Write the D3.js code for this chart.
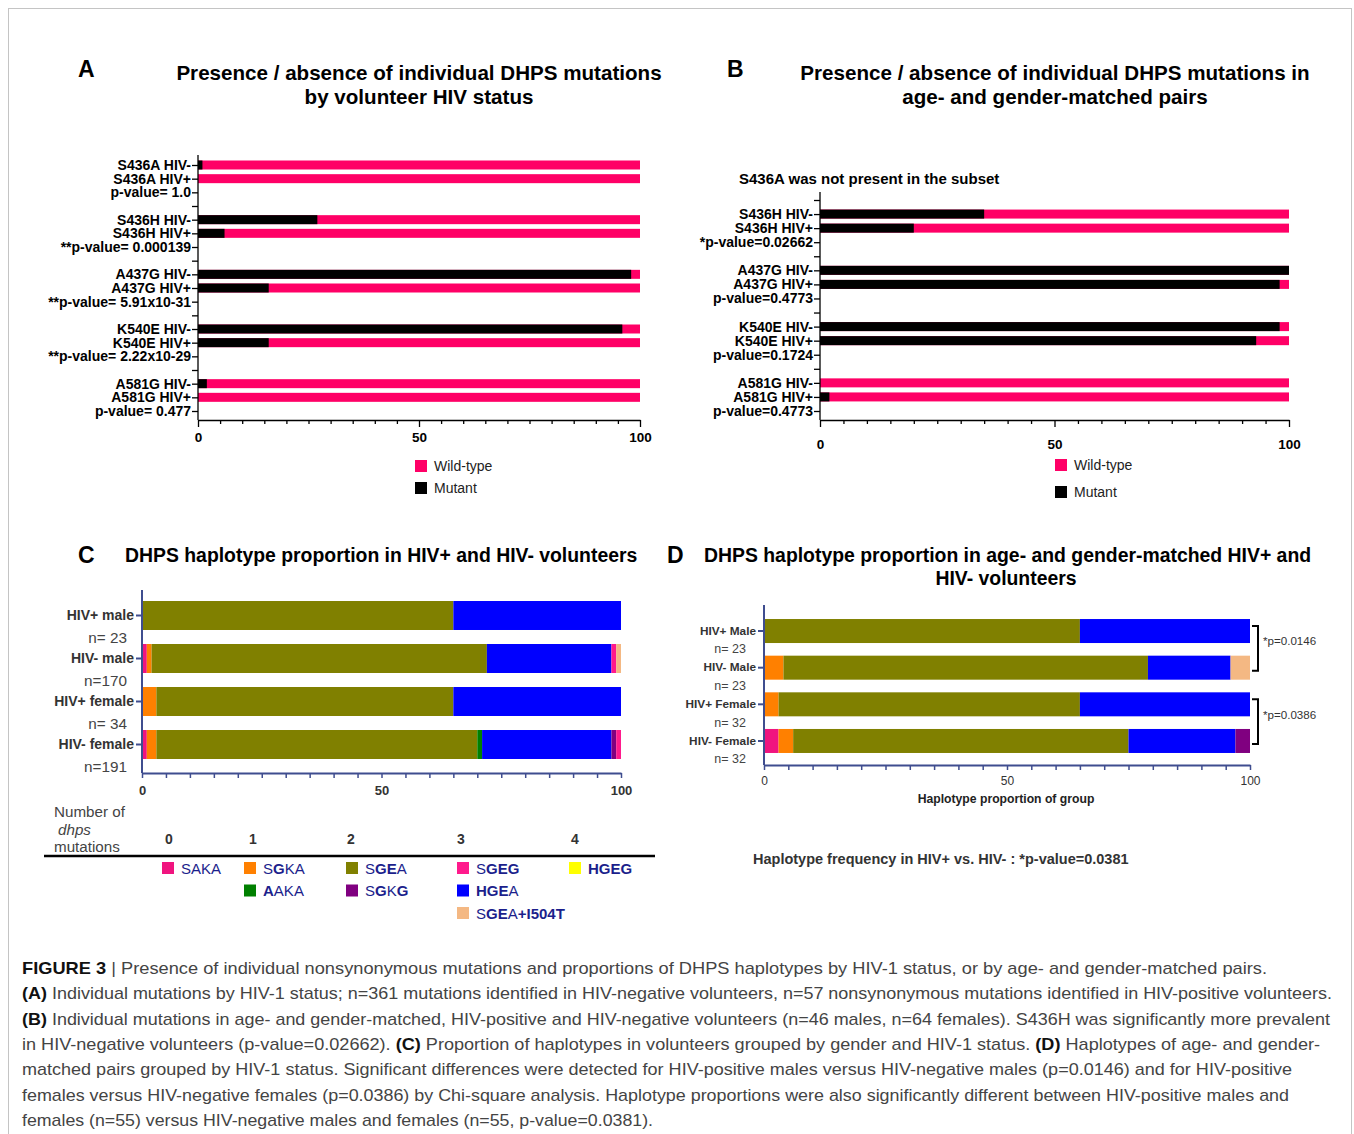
<!DOCTYPE html>
<html>
<head>
<meta charset="utf-8">
<script src="https://cdn.jsdelivr.net/npm/d3@7"></script>
<style>
  body { margin: 0; background: #fff; }
  svg { display: block; font-family: "Liberation Sans", Arial, Helvetica, sans-serif; }
</style>
</head>
<body>
<svg id="fig" width="1354" height="1134"></svg>
<script>
// ---- data: panel A (all volunteers) ----
const mutationsA = ["S436A", "S436H", "A437G", "K540E", "A581G"];
const pLabelsA = ["p-value= 1.0", "**p-value= 0.000139", "**p-value= 5.91x10-31", "**p-value= 2.22x10-29", "p-value= 0.477"];
const mutantNegA = [1, 27, 98, 96, 2];   // % mutant, HIV-
const mutantPosA = [0, 6, 16, 16, 0];    // % mutant, HIV+

// ---- data: panel B (matched pairs) ----
const mutationsB = ["S436H", "A437G", "K540E", "A581G"];
const pLabelsB = ["*p-value=0.02662", "p-value=0.4773", "p-value=0.1724", "p-value=0.4773"];
const mutantNegB = [35, 100, 98, 0];
const mutantPosB = [20, 98, 93, 2];

// ---- haplotypes ----
const haplotypes = ["SAKA", "SGKA", "SGEA", "AAKA", "HGEA", "SGKG", "SGEG", "HGEG", "SGEA+I504T"];
const hapColors = ["#f0147f", "#ff8000", "#808000", "#008000", "#0000ff", "#800080", "#ff1a8c", "#ffff00", "#f4b883"];
const hapMutCount = [0, 1, 2, 1, 3, 2, 3, 4, 3];
const legendOrder = ["SAKA", "SGKA", "AAKA", "SGEA", "SGKG", "SGEG", "HGEA", "SGEA+I504T", "HGEG"];
const mutCountLabels = ["0", "1", "2", "3", "4"];

// panel C: % of each haplotype per group (haplotype order above)
const groupsC = ["HIV+ male", "HIV- male", "HIV+ female", "HIV- female"];
const nLabelsC = ["n= 23", "n=170", "n= 34", "n=191"];
const hapC = [
  [0, 0, 65, 0, 35, 0, 0, 0, 0],
  [1, 1, 70, 0, 26, 0, 1, 0, 1],
  [0, 3, 62, 0, 35, 0, 0, 0, 0],
  [1, 2, 67, 1, 27, 1, 1, 0, 0]
];

// panel D
const groupsD = ["HIV+ Male", "HIV- Male", "HIV+ Female", "HIV- Female"];
const nLabelsD = ["n= 23", "n= 23", "n= 32", "n= 32"];
const hapD = [
  [0, 0, 65, 0, 35, 0, 0, 0, 0],
  [0, 4, 75, 0, 17, 0, 0, 0, 4],
  [0, 3, 62, 0, 35, 0, 0, 0, 0],
  [3, 3, 69, 0, 22, 3, 0, 0, 0]
];
const bracketPairsD = [[0, 1], [2, 3]];
const bracketLabelsD = ["*p=0.0146", "*p=0.0386"];

const FONT = '"Liberation Sans", Arial, Helvetica, sans-serif';
const PINK = "#ff0066";
const AXIS = "#3f4d8f";
const svg = d3.select("#fig");

svg.append("rect")
  .attr("x", 8.5).attr("y", 8.5).attr("width", 1343).attr("height", 1140)
  .attr("fill", "none").attr("stroke", "#c4c4c4");

function text(x, y, str, opts = {}) {
  return svg.append("text")
    .attr("x", x).attr("y", y)
    .attr("font-size", opts.size || 13)
    .attr("font-weight", opts.bold ? "bold" : "normal")
    .attr("font-style", opts.italic ? "italic" : null)
    .attr("text-anchor", opts.anchor || "start")
    .attr("fill", opts.fill || "#000")
    .text(str);
}

// ---------- mutation panels (A, B) ----------
function mutationPanel(cfg) {
  const slots = [];
  if (cfg.leadingSep) slots.push({ id: "sepTop", label: "" });
  cfg.mutations.forEach((m, i) => {
    slots.push({ id: m + "-", label: m + " HIV-", value: cfg.neg[i] });
    slots.push({ id: m + "+", label: m + " HIV+", value: cfg.pos[i] });
    slots.push({ id: "p" + i, label: cfg.pLabels[i] });
    if (i < cfg.mutations.length - 1) slots.push({ id: "sep" + i, label: "" });
  });
  const labelOf = new Map(slots.map(d => [d.id, d.label]));
  const y = d3.scalePoint().domain(slots.map(d => d.id)).range([cfg.yFirst, cfg.yLast]);
  const x = d3.scaleLinear().domain([0, 100]).range([cfg.x0, cfg.x1]);
  const bars = slots.filter(d => d.value !== undefined);
  const g = svg.append("g");

  g.selectAll("rect.wt").data(bars).join("rect")
    .attr("class", "wt")
    .attr("x", x(0)).attr("width", x(100) - x(0))
    .attr("y", d => y(d.id) - 4.5).attr("height", 9)
    .attr("fill", PINK);
  g.selectAll("rect.mut").data(bars).join("rect")
    .attr("class", "mut")
    .attr("x", x(0)).attr("width", d => x(d.value) - x(0))
    .attr("y", d => y(d.id) - 4.5).attr("height", 9)
    .attr("fill", "#000");

  const ya = g.append("g")
    .attr("transform", `translate(${x(0)},0)`)
    .call(d3.axisLeft(y).tickSize(6).tickPadding(1).tickFormat(id => labelOf.get(id)));
  ya.select(".domain").remove();
  ya.attr("font-family", FONT).attr("font-size", 14).attr("font-weight", "bold");
  ya.selectAll("line").attr("stroke", "#000").attr("stroke-width", 1.3);
  ya.selectAll("text").attr("fill", "#000");

  g.append("line")
    .attr("x1", x(0)).attr("x2", x(0))
    .attr("y1", cfg.axisTop).attr("y2", cfg.axisY)
    .attr("stroke", "#000").attr("stroke-width", 1.3);

  const xa = g.append("g")
    .attr("transform", `translate(0,${cfg.axisY})`)
    .call(d3.axisBottom(x).tickValues(d3.range(0, 101, 5)).tickSize(4).tickSizeOuter(0)
      .tickFormat(d => d % 50 === 0 ? d : ""));
  xa.attr("font-family", FONT).attr("font-size", 13.5).attr("font-weight", "bold");
  xa.select(".domain").attr("stroke", "#000").attr("stroke-width", 1.3);
  xa.selectAll("line").attr("stroke", "#000").attr("stroke-width", 1.3);
  xa.selectAll(".tick").filter(d => d % 50 === 0).select("line").attr("y2", 7);
  xa.selectAll("text").attr("fill", "#000").attr("dy", null).attr("y", cfg.tickTextY);

  // legend
  [["Wild-type", PINK], ["Mutant", "#000"]].forEach(([lab, col], i) => {
    svg.append("rect").attr("x", cfg.legX).attr("y", cfg.legY[i]).attr("width", 12).attr("height", 12).attr("fill", col);
    text(cfg.legX + 19, cfg.legY[i] + 11, lab, { size: 14, fill: "#222" });
  });
}

mutationPanel({
  mutations: mutationsA, pLabels: pLabelsA, neg: mutantNegA, pos: mutantPosA,
  yFirst: 165, yLast: 411, x0: 198, x1: 640, axisTop: 155, axisY: 420, tickTextY: 21.5,
  legX: 415, legY: [460, 482]
});
mutationPanel({
  mutations: mutationsB, pLabels: pLabelsB, neg: mutantNegB, pos: mutantPosB, leadingSep: true,
  yFirst: 200, yLast: 411, x0: 820, x1: 1289, axisTop: 192, axisY: 420, tickTextY: 28.5,
  legX: 1055, legY: [459, 486]
});

// titles A / B
text(78, 77, "A", { size: 23, bold: true });
text(419, 80, "Presence / absence of individual DHPS mutations", { size: 20.6, bold: true, anchor: "middle" });
text(419, 104, "by volunteer HIV status", { size: 20.6, bold: true, anchor: "middle" });
text(727, 77, "B", { size: 23, bold: true });
text(1055, 80, "Presence / absence of individual DHPS mutations in", { size: 20.6, bold: true, anchor: "middle" });
text(1055, 104, "age- and gender-matched pairs", { size: 20.6, bold: true, anchor: "middle" });
text(739, 184, "S436A was not present in the subset", { size: 15, bold: true });

// ---------- haplotype panels (C, D) ----------
function haplotypePanel(cfg) {
  const table = cfg.groups.map((name, i) => {
    const row = { group: name };
    haplotypes.forEach((h, j) => { row[h] = cfg.values[i][j]; });
    return row;
  });
  const series = d3.stack().keys(haplotypes)(table);
  const x = d3.scaleLinear().domain([0, 100]).range([cfg.x0, cfg.x1]);
  const y = d3.scaleBand().domain(cfg.groups).range(cfg.yRange)
    .paddingInner(cfg.padIn).paddingOuter(cfg.padIn / 2);
  const g = svg.append("g");

  g.selectAll("g.series").data(series).join("g")
    .attr("fill", (d, i) => hapColors[i])
    .selectAll("rect").data(d => d).join("rect")
    .attr("x", d => x(d[0])).attr("width", d => x(d[1]) - x(d[0]))
    .attr("y", d => y(d.data.group)).attr("height", y.bandwidth());

  const ya = g.append("g")
    .attr("transform", `translate(${x(0)},0)`)
    .call(d3.axisLeft(y).tickSize(6).tickPadding(2));
  ya.select(".domain").remove();
  ya.attr("font-family", FONT).attr("font-size", cfg.labelSize).attr("font-weight", "bold");
  ya.selectAll("line").attr("stroke", AXIS).attr("stroke-width", 2);
  ya.selectAll("text").attr("fill", "#333");

  g.selectAll("text.n").data(cfg.groups).join("text")
    .attr("class", "n")
    .attr("x", cfg.nX).attr("y", (d, i) => y(d) + y.bandwidth() / 2 + cfg.nOffset + cfg.nSize * 0.35)
    .attr("text-anchor", "end").attr("font-size", cfg.nSize).attr("fill", "#444")
    .text((d, i) => cfg.nLabels[i]);

  g.append("line")
    .attr("x1", x(0)).attr("x2", x(0))
    .attr("y1", cfg.axisTop).attr("y2", cfg.axisY)
    .attr("stroke", AXIS).attr("stroke-width", 2);

  const xa = g.append("g")
    .attr("transform", `translate(0,${cfg.axisY})`)
    .call(d3.axisBottom(x).tickValues(d3.range(0, 101, 5)).tickSize(5).tickSizeOuter(0)
      .tickFormat(d => d % 50 === 0 ? d : ""));
  xa.attr("font-family", FONT).attr("font-size", cfg.tickSize).attr("font-weight", cfg.tickBold ? "bold" : "normal");
  xa.select(".domain").attr("stroke", AXIS).attr("stroke-width", 2);
  xa.selectAll("line").attr("stroke", AXIS).attr("stroke-width", 1.5);
  xa.selectAll("text").attr("fill", "#333").attr("dy", null).attr("y", cfg.tickTextY);

  return { x, y };
}

haplotypePanel({
  groups: groupsC, nLabels: nLabelsC, values: hapC,
  x0: 142, x1: 621, yRange: [594, 766], padIn: 0.326,
  axisTop: 590, axisY: 773, labelSize: 14, nSize: 15.3, nX: 127, nOffset: 22,
  tickSize: 13, tickBold: true, tickTextY: 22
});

const pd = haplotypePanel({
  groups: groupsD, nLabels: nLabelsD, values: hapD,
  x0: 764, x1: 1250, yRange: [612.7, 759.3], padIn: 0.345,
  axisTop: 605, axisY: 765, labelSize: 11.8, nSize: 12.5, nX: 746, nOffset: 18,
  tickSize: 12, tickBold: false, tickTextY: 20
});

// significance brackets in D
bracketPairsD.forEach(([a, b], i) => {
  const yc = g => pd.y(groupsD[g]) + pd.y.bandwidth() / 2;
  const top = yc(a) - 5, bot = yc(b) + 3, xr = pd.x(100) + 8;
  svg.append("path")
    .attr("d", `M${xr - 6},${top}H${xr}V${bot}H${xr - 6}`)
    .attr("fill", "none").attr("stroke", "#000").attr("stroke-width", 2);
  text(xr + 5, (top + bot) / 2 - 3, bracketLabelsD[i], { size: 11.6, fill: "#333" });
});

// titles C / D
text(78, 563, "C", { size: 23, bold: true });
text(125, 562, "DHPS haplotype proportion in HIV+ and HIV- volunteers", { size: 19.4, bold: true });
text(667, 563, "D", { size: 23, bold: true });
text(704, 562, "DHPS haplotype proportion in age- and gender-matched HIV+ and", { size: 19.4, bold: true });
text(1006, 585, "HIV- volunteers", { size: 19.4, bold: true, anchor: "middle" });
text(1006, 803, "Haplotype proportion of group", { size: 12.2, bold: true, anchor: "middle", fill: "#222" });
text(753, 864, "Haplotype frequency in HIV+ vs. HIV- : *p-value=0.0381", { size: 14.5, bold: true, fill: "#333" });

// ---------- haplotype legend (C) ----------
text(54, 817, "Number of", { size: 15.2, fill: "#444" });
text(58, 835, "dhps", { size: 15.2, italic: true, fill: "#444" });
text(54, 852, "mutations", { size: 15.2, fill: "#444" });

const legendColX = [169, 253, 351, 461, 575];
const legendSquareX = [162, 244, 346, 457, 569];
mutCountLabels.forEach((lab, i) => text(legendColX[i], 844, lab, { size: 14, bold: true, anchor: "middle", fill: "#333" }));
svg.append("line").attr("x1", 44).attr("x2", 655).attr("y1", 856).attr("y2", 856)
  .attr("stroke", "#000").attr("stroke-width", 2.5);

const REF = "SAKA";
const rowInCol = {};
legendOrder.forEach(h => {
  const i = haplotypes.indexOf(h);
  const col = hapMutCount[i];
  const row = rowInCol[col] || 0;
  rowInCol[col] = row + 1;
  const sx = legendSquareX[col], sy = 862 + row * 22.5;
  svg.append("rect").attr("x", sx).attr("y", sy).attr("width", 12).attr("height", 12).attr("fill", hapColors[i]);
  const t = svg.append("text").attr("x", sx + 19).attr("y", sy + 11.5).attr("font-size", 15).attr("fill", "#1c1f8c");
  const [core, extra] = h.split("+");
  core.split("").forEach((c, k) => {
    t.append("tspan").attr("font-weight", c !== REF[k] ? "bold" : "normal").text(c);
  });
  if (extra) t.append("tspan").attr("font-weight", "bold").text("+" + extra);
});

// ---------- caption ----------
const captionLines = [
  [["FIGURE 3", 1], [" | Presence of individual nonsynonymous mutations and proportions of DHPS haplotypes by HIV-1 status, or by age- and gender-matched pairs.", 0]],
  [["(A)", 1], [" Individual mutations by HIV-1 status; n=361 mutations identified in HIV-negative volunteers, n=57 nonsynonymous mutations identified in HIV-positive volunteers.", 0]],
  [["(B)", 1], [" Individual mutations in age- and gender-matched, HIV-positive and HIV-negative volunteers (n=46 males, n=64 females). S436H was significantly more prevalent", 0]],
  [["in HIV-negative volunteers (p-value=0.02662). ", 0], ["(C)", 1], [" Proportion of haplotypes in volunteers grouped by gender and HIV-1 status. ", 0], ["(D)", 1], [" Haplotypes of age- and gender-", 0]],
  [["matched pairs grouped by HIV-1 status. Significant differences were detected for HIV-positive males versus HIV-negative males (p=0.0146) and for HIV-positive", 0]],
  [["females versus HIV-negative females (p=0.0386) by Chi-square analysis. Haplotype proportions were also significantly different between HIV-positive males and", 0]],
  [["females (n=55) versus HIV-negative males and females (n=55, p-value=0.0381).", 0]]
];
const captionWidths = [1245, 1310, 1308, 1298, 1270, 1267, 631];
captionLines.forEach((segs, i) => {
  const t = svg.append("text")
    .attr("x", 22).attr("y", 974 + i * 25.3)
    .attr("font-size", 17)
    .attr("textLength", captionWidths[i]).attr("lengthAdjust", "spacingAndGlyphs");
  segs.forEach(([s, b]) => {
    t.append("tspan").attr("font-weight", b ? "bold" : "normal").attr("fill", b ? "#111" : "#444").text(s);
  });
});
</script>
</body>
</html>
